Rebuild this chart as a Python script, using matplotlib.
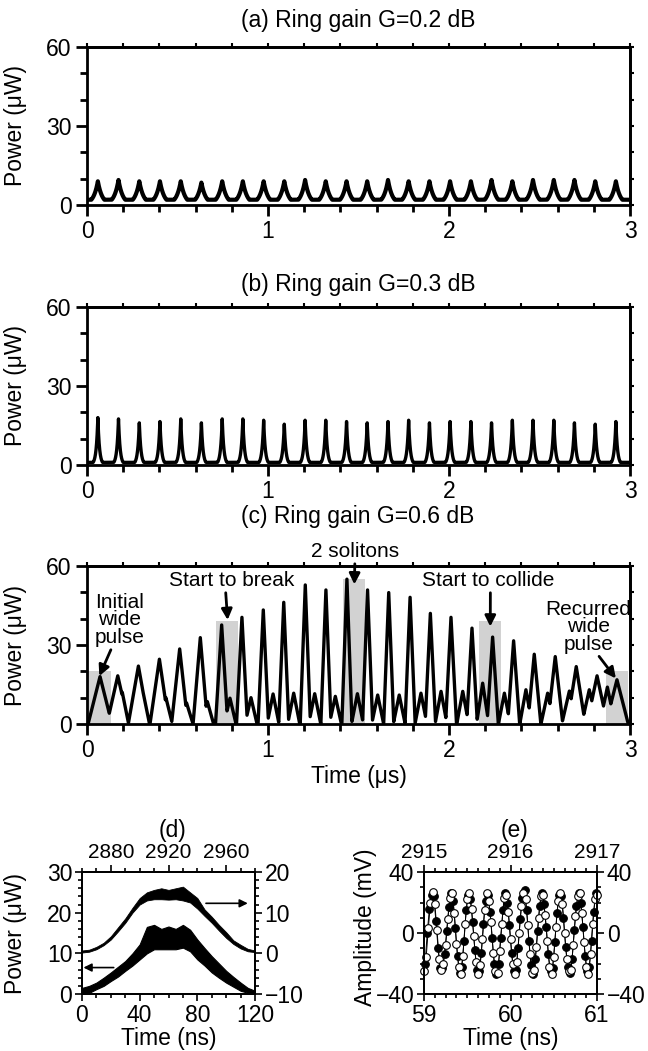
import numpy as np
import matplotlib.pyplot as plt
from matplotlib.ticker import MultipleLocator

plt.rcParams['font.family'] = ['Liberation Sans', 'DejaVu Sans']
plt.rcParams['font.size'] = 16.5

# ---- panels (a)/(b): pulse positions (us) and peak powers (uW)
pulse_t = [0.060, 0.174, 0.289, 0.403, 0.518, 0.632, 0.747, 0.861, 0.976, 1.090,
           1.205, 1.319, 1.434, 1.548, 1.663, 1.777, 1.892, 2.006, 2.121, 2.235,
           2.350, 2.464, 2.579, 2.693, 2.808, 2.922]
peak_a = [9, 9.5, 9, 9, 9, 8.5, 9, 9, 9, 9, 9.5, 9, 9, 9, 9.5, 9, 9, 9, 9, 9.5,
          9, 9.5, 9.5, 9.5, 9, 9]
base_a = 2.0
peak_b = [18, 17.5, 16, 16.5, 17.5, 16, 17.5, 17.5, 17, 15.5, 17, 17, 16.5, 16,
          16.5, 17, 16, 16.5, 16.5, 16, 17, 17, 17, 16, 15.5, 16.5]
base_b = 1.0

# ---- panel (c): main pulses and secondary (split) pulses
c_main_t = [0.072, 0.170, 0.284, 0.400, 0.512, 0.626, 0.744, 0.856, 0.974, 1.087,
            1.206, 1.320, 1.436, 1.550, 1.667, 1.785, 1.897, 2.011, 2.127, 2.241,
            2.357, 2.471, 2.587, 2.703, 2.818, 2.928]
c_main_p = [18, 18.3, 22, 24.6, 28.5, 32.8, 37.6, 40.5, 43.3, 46.2, 52.8, 50.9, 55,
            50.9, 49.9, 48.1, 42, 40.5, 36.4, 33, 31.6, 26.5, 25.6, 21.8, 18.3, 16.8]
c_main_w = [0.066, 0.060, 0.056, 0.052, 0.045, 0.040, 0.034, 0.030, 0.029, 0.028,
            0.028, 0.028, 0.028, 0.028, 0.028, 0.028, 0.029, 0.030, 0.030, 0.031,
            0.033, 0.036, 0.042, 0.050, 0.056, 0.062]
c_sec_t = [0.195, 0.310, 0.436, 0.550, 0.665, 0.790, 0.906, 1.028, 1.142, 1.258,
           1.372, 1.494, 1.606, 1.725, 1.845, 1.956, 2.076, 2.186, 2.306, 2.425,
           2.545, 2.665, 2.775, 2.875]
c_sec_p = [12, 12, 10, 8, 8.5, 9.8, 10, 11.4, 11.7, 11.5, 10.5, 11.5, 11, 11, 11.7,
           12.4, 12.4, 15.5, 11.7, 13, 11.7, 12.5, 13, 14]
c_sec_w = [0.035, 0.035, 0.036, 0.036, 0.034, 0.033, 0.033, 0.033, 0.033, 0.033,
           0.033, 0.033, 0.033, 0.033, 0.033, 0.033, 0.033, 0.034, 0.033, 0.034,
           0.037, 0.042, 0.042, 0.042]

# highlighted windows in (c): left, right, top
box_left = [0.0, 0.713, 1.413, 2.168, 2.867]
box_right = [0.133, 0.832, 1.536, 2.287, 2.987]
box_top = [20, 39, 55, 39, 20]

# ---- panel (d): envelope of noisy traces every 5 ns
d_t = [0, 5, 10, 15, 20, 25, 30, 35, 40, 45, 50, 55, 60, 65, 70, 75, 80, 85, 90,
       95, 100, 105, 110, 115, 120]
d_low_lo = [0, 0.3, 1.2, 2, 3.2, 4.3, 5.7, 7, 8.5, 10, 11, 11, 11, 11, 11.4, 10.5,
            8.5, 7, 5.3, 4, 2.8, 1.8, 0.8, 0.3, 0]
d_low_hi = [1.5, 2, 2.8, 4, 5.3, 6.7, 8.1, 10, 12.2, 16.5, 17, 16, 16.6, 16, 17,
            15.8, 13.4, 11.3, 9.3, 7.5, 5.7, 4.2, 2.8, 1.5, 0.8]
d_up_lo = [0.2, 0.4, 1, 2, 3.4, 5.4, 7.5, 10, 12, 13, 13.3, 13.3, 13.2, 13.3, 13,
           12.5, 11, 9.2, 7.5, 5.6, 3.8, 2.3, 1.2, 0.5, 0.3]
d_up_hi = [0.7, 0.9, 1.6, 2.6, 4.2, 6.4, 8.6, 11.2, 13.6, 15, 15.6, 16, 15.6, 16,
           16.4, 15, 13.6, 10.8, 9, 7, 5.2, 3.2, 2.1, 1.1, 0.7]

# ---- panel (e): sampled oscillation (mV), 59..61 ns
e_open = [-25, -16, 3, 20, 27, 19, 2, -17, -24, -20, -8, 9, 23, 26, 13, -7, -22,
          -27, -15, 6, 22, 26, 16, -2, -19, -27, -21, -4, 15, 26, 21, 7, -13, -25,
          -26, -12, 6, 23, 25, 14, -4, -20, -27, -19, 0, 18, 26, 22, 5, -14, -26,
          -24, -9, 10, 24, 25, 12, -5, -22, -27, -16, 4, 21, 26, 19, 0, -17, -25,
          -24, -8, 11, 24, 26, 13, -6, -22, -27, -14, 6, 22, 25]
e_fill = [-20, 0, 16, 25, 24, 8, -10, -23, -23, -14, 1, 17, 26, 21, 3, -15, -26,
          -22, -5, 15, 25, 22, 7, -11, -24, -25, -13, 6, 21, 25, 14, -3, -20, -27,
          -20, -3, 15, 26, 20, 5, -13, -25, -24, -10, 9, 23, 28, 15, -5, -21, -27,
          -17, 1, 18, 26, 19, 4, -14, -25, -23, -6, 13, 25, 24, 10, -9, -22, -26,
          -17, 2, 18, 26, 20, 4, -15, -25, -22, -5, 14, 26]

W, H = 648, 1051
fig = plt.figure(figsize=(W / 100, H / 100), dpi=100)


def px_axes(l, t, r, b):
    return fig.add_axes([l / W, 1 - b / H, (r - l) / W, (b - t) / H])


def ftext(x, y, s, **kw):
    fig.text(x / W, 1 - y / H, s, ha='center', va='center', **kw)


def style_train(ax):
    ax.set_xlim(0, 3)
    ax.set_ylim(0, 60)
    ax.set_xticks([0, 1, 2, 3])
    ax.set_yticks([0, 30, 60])
    ax.xaxis.set_minor_locator(MultipleLocator(0.2))
    ax.yaxis.set_minor_locator(MultipleLocator(10))
    ax.tick_params(which='both', direction='out', width=2)
    ax.tick_params(which='major', length=8, pad=3)
    ax.tick_params(which='minor', length=5)
    for s in ax.spines.values():
        s.set_linewidth(2)
    top = ax.secondary_xaxis('top')
    top.set_xticks([0, 1, 2, 3])
    top.xaxis.set_minor_locator(MultipleLocator(0.2))
    top.tick_params(which='both', direction='out', length=3, width=1.5,
                    labeltop=False)
    top.spines['top'].set_linewidth(2)
    right = ax.secondary_yaxis('right')
    right.set_yticks([0, 30, 60])
    right.yaxis.set_minor_locator(MultipleLocator(10))
    right.tick_params(which='both', direction='out', length=3, width=1.5,
                      labelright=False)
    right.spines['right'].set_linewidth(2)
    ax.set_ylabel('Power (μW)')
    ax.yaxis.set_label_coords(-0.11, 0.5)


t = np.linspace(0, 3, 6001)


def cusp_train(times, peaks, base, tau):
    y = np.full_like(t, base)
    for tp, h in zip(times, peaks):
        y = np.maximum(y, h * np.exp(-np.abs(t - tp) / tau))
    return y


def tri_train(times, peaks, widths):
    y = np.zeros_like(t)
    for tp, h, w in zip(times, peaks, widths):
        y = np.maximum(y, h * np.clip(1 - np.abs(t - tp) / w, 0, None))
    return y


# (a)
ax_a = px_axes(87, 47, 630, 205)
ax_a.plot(t, cusp_train(pulse_t, peak_a, base_a, 0.024), color='k', lw=3)
style_train(ax_a)
ftext(358, 21, '(a) Ring gain G=0.2 dB')

# (b)
ax_b = px_axes(87, 307, 630, 465)
ax_b.plot(t, cusp_train(pulse_t, peak_b, base_b, 0.009), color='k', lw=2.4)
style_train(ax_b)
ftext(358, 285, '(b) Ring gain G=0.3 dB')

# (c)
ax_c = px_axes(87, 566, 630, 724)
for l, r, h in zip(box_left, box_right, box_top):
    ax_c.bar(l, h, width=r - l, align='edge', color='#d2d2d2', zorder=0)
yc = np.maximum(tri_train(c_main_t, c_main_p, c_main_w),
                tri_train(c_sec_t, c_sec_p, c_sec_w))
ax_c.plot(t, yc, color='k', lw=2.4)
style_train(ax_c)
ax_c.set_xlabel('Time (μs)', labelpad=2)
ftext(358, 517, '(c) Ring gain G=0.6 dB')

arw = dict(arrowstyle='-|>', color='k', lw=2, mutation_scale=16,
           shrinkA=0, shrinkB=0)
ax_c.annotate('Initial\nwide\npulse', xy=(0.068, 18.2), xytext=(0.18, 39.5),
              ha='center', va='center', linespacing=0.9, fontsize=15,
              arrowprops=dict(arw, relpos=(0.35, 0)))
ax_c.annotate('Start to break', xy=(0.777, 39.5), xytext=(0.8, 54.5),
              ha='center', va='center', fontsize=15,
              arrowprops=dict(arw, relpos=(0.45, 0)))
ax_c.annotate('2 solitons', xy=(1.477, 53), xytext=(1.48, 65.5),
              ha='center', va='center', fontsize=15, annotation_clip=False,
              arrowprops=dict(arw, relpos=(0.5, 0)))
ax_c.annotate('Start to collide', xy=(2.228, 37), xytext=(2.214, 54.5),
              ha='center', va='center', fontsize=15,
              arrowprops=dict(arw, relpos=(0.52, 0)))
ax_c.annotate('Recurred\nwide\npulse', xy=(2.922, 17.3), xytext=(2.77, 37),
              ha='center', va='center', linespacing=0.9, fontsize=15,
              arrowprops=dict(arw, relpos=(0.6, 0)))

# (d)
ax_d = px_axes(82, 872, 255, 994)
ax_d.fill_between(d_t, d_low_lo, d_low_hi, color='k', lw=0.8)
ax_d.set_xlim(0, 120)
ax_d.set_ylim(0, 30)
ax_d.set_xticks([0, 40, 80, 120])
ax_d.set_yticks([0, 10, 20, 30])
ax_d.xaxis.set_minor_locator(MultipleLocator(10))
ax_d.yaxis.set_minor_locator(MultipleLocator(2))
ax_d.set_ylabel('Power (μW)')
ax_d.yaxis.set_label_coords(-0.32, 0.5)
ax_d.set_xlabel('Time (ns)', labelpad=0)
ax_d2 = ax_d.twinx()
ax_d2.fill_between(d_t, d_up_lo, d_up_hi, color='k', lw=0.6)
ax_d2.set_ylim(-10, 20)
ax_d2.set_yticks([-10, 0, 10, 20])
ax_d2.yaxis.set_minor_locator(MultipleLocator(2))
top_d = ax_d.secondary_xaxis('top', functions=(lambda x: x + 2860,
                                               lambda x: x - 2860))
top_d.set_xticks([2880, 2920, 2960])
top_d.xaxis.set_minor_locator(MultipleLocator(10))
ax_d.annotate('', xy=(1, 6.5), xytext=(22, 6.5),
              arrowprops=dict(arw, lw=1.2, mutation_scale=12))
ax_d.annotate('', xy=(115, 22.3), xytext=(86, 22.3),
              arrowprops=dict(arw, lw=1.2, mutation_scale=12))
ftext(172, 830, '(d)')

# (e)
ax_e = px_axes(424, 872, 597, 994)
te_open = np.linspace(59, 61, len(e_open))
te_fill = te_open[:-1] + (te_open[1] - te_open[0]) / 2
ax_e.plot(te_fill, e_fill, color='k', lw=0.7, marker='o', ms=5.5, mfc='k',
          mec='k', mew=0.8, clip_on=False)
ax_e.plot(te_open, e_open, color='k', lw=0.7, marker='o', ms=5.5, mfc='white',
          mec='k', mew=0.8, clip_on=False)
ax_e.set_xlim(59, 61)
ax_e.set_ylim(-40, 40)
ax_e.set_xticks([59, 60, 61])
ax_e.set_yticks([-40, 0, 40])
ax_e.xaxis.set_minor_locator(MultipleLocator(0.125))
ax_e.yaxis.set_minor_locator(MultipleLocator(10))
ax_e.set_ylabel('Amplitude (mV)')
ax_e.yaxis.set_label_coords(-0.27, 0.55)
ax_e.set_xlabel('Time (ns)', labelpad=0)
ax_e2 = ax_e.twinx()
ax_e2.set_ylim(-40, 40)
ax_e2.set_yticks([-40, 0, 40])
ax_e2.yaxis.set_minor_locator(MultipleLocator(10))
top_e = ax_e.secondary_xaxis('top', functions=(lambda x: x + 2856,
                                               lambda x: x - 2856))
top_e.set_xticks([2915, 2916, 2917])
top_e.xaxis.set_minor_locator(MultipleLocator(0.125))
ftext(515, 830, '(e)')

for ax in (ax_d, ax_d2, ax_e, ax_e2, top_d, top_e):
    ax.tick_params(which='both', direction='out', width=1.2)
    ax.tick_params(which='major', length=5, pad=2)
    ax.tick_params(which='minor', length=3)
    for s in ax.spines.values():
        s.set_linewidth(1.3)
for ax in (top_d, top_e):
    ax.tick_params(labelsize=15)

fig.savefig('out.png', dpi=100)
